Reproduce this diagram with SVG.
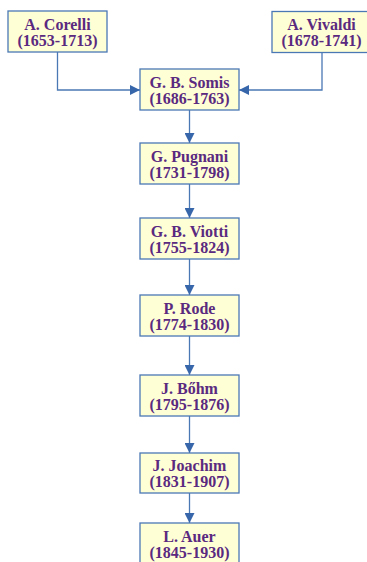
<svg xmlns="http://www.w3.org/2000/svg" width="367" height="562" viewBox="0 0 367 562">
  <style>
    .box { fill: #FFFFD6; stroke: #4A78B4; stroke-width: 1.3; }
    .lbl { font-family: "Liberation Serif", "DejaVu Serif", serif; font-weight: bold; font-size: 16px; fill: #5A2A80; text-anchor: middle; }
    .wire { fill: none; stroke: #4A78B4; stroke-width: 1.3; }
  </style>
  <defs>
    <marker id="arrow" viewBox="0 0 10 10" refX="10" refY="5" markerWidth="11" markerHeight="10" markerUnits="userSpaceOnUse" orient="auto">
      <path d="M0,0 L10,5 L0,10 z" fill="#3766AA"/>
    </marker>
  </defs>

  <!-- connectors -->
  <g id="connectors">
    <polyline class="wire" points="57.5,52 57.5,90 140,90" marker-end="url(#arrow)"/>
    <polyline class="wire" points="322,52 322,90 239,90" marker-end="url(#arrow)"/>
    <line class="wire" x1="189.5" y1="110" x2="189.5" y2="143" marker-end="url(#arrow)"/>
    <line class="wire" x1="189.5" y1="184" x2="189.5" y2="218" marker-end="url(#arrow)"/>
    <line class="wire" x1="189.5" y1="259" x2="189.5" y2="295" marker-end="url(#arrow)"/>
    <line class="wire" x1="189.5" y1="336" x2="189.5" y2="375" marker-end="url(#arrow)"/>
    <line class="wire" x1="189.5" y1="416" x2="189.5" y2="453" marker-end="url(#arrow)"/>
    <line class="wire" x1="189.5" y1="493" x2="189.5" y2="523" marker-end="url(#arrow)"/>
  </g>

  <g id="corelli">
    <rect class="box" x="8" y="11" width="99" height="41"/>
    <text class="lbl" x="57.5" y="29.5">A. Corelli</text>
    <text class="lbl" x="57.5" y="45.5">(1653-1713)</text>
  </g>
  <g id="vivaldi">
    <rect class="box" x="272" y="11.5" width="99" height="41"/>
    <text class="lbl" x="321.5" y="30">A. Vivaldi</text>
    <text class="lbl" x="321.5" y="46">(1678-1741)</text>
  </g>
  <g id="somis">
    <rect class="box" x="140" y="69" width="99" height="41"/>
    <text class="lbl" x="189.5" y="87.5">G. B. Somis</text>
    <text class="lbl" x="189.5" y="103.5">(1686-1763)</text>
  </g>
  <g id="pugnani">
    <rect class="box" x="140" y="143" width="99" height="41"/>
    <text class="lbl" x="189.5" y="161.5">G. Pugnani</text>
    <text class="lbl" x="189.5" y="177.5">(1731-1798)</text>
  </g>
  <g id="viotti">
    <rect class="box" x="140" y="218" width="99" height="41"/>
    <text class="lbl" x="189.5" y="236.5">G. B. Viotti</text>
    <text class="lbl" x="189.5" y="252.5">(1755-1824)</text>
  </g>
  <g id="rode">
    <rect class="box" x="140" y="295" width="99" height="41"/>
    <text class="lbl" x="189.5" y="313.5">P. Rode</text>
    <text class="lbl" x="189.5" y="329.5">(1774-1830)</text>
  </g>
  <g id="bohm">
    <rect class="box" x="140" y="375" width="99" height="41"/>
    <text class="lbl" x="189.5" y="393.5">J. Bőhm</text>
    <text class="lbl" x="189.5" y="409.5">(1795-1876)</text>
  </g>
  <g id="joachim">
    <rect class="box" x="140" y="453" width="99" height="40"/>
    <text class="lbl" x="189.5" y="471">J. Joachim</text>
    <text class="lbl" x="189.5" y="487">(1831-1907)</text>
  </g>
  <g id="auer">
    <rect class="box" x="140" y="523" width="99" height="41"/>
    <text class="lbl" x="189.5" y="541.5">L. Auer</text>
    <text class="lbl" x="189.5" y="557.5">(1845-1930)</text>
  </g>
</svg>
